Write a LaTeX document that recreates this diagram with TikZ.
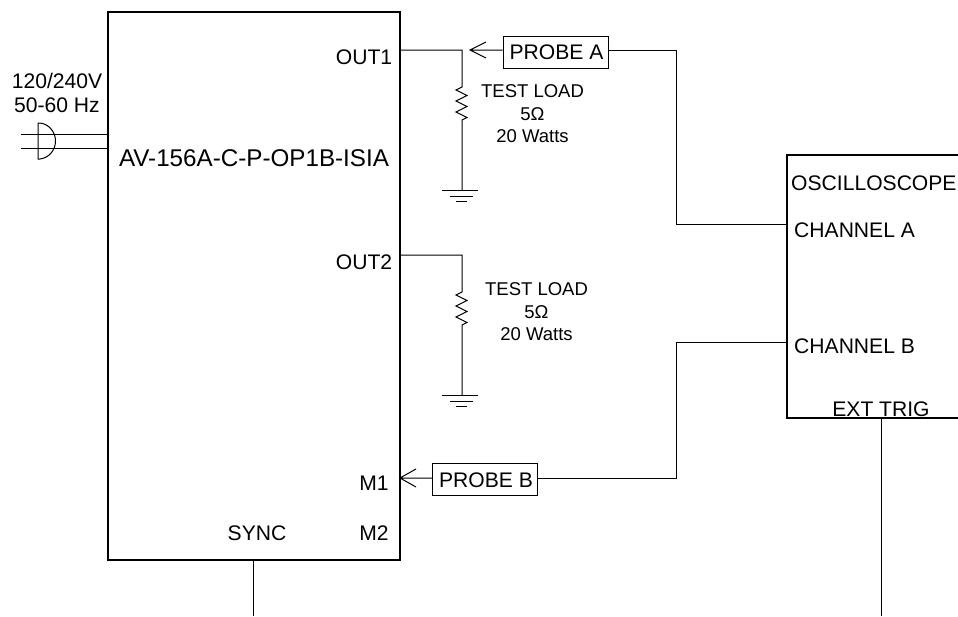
\documentclass[tikz,border=0pt]{standalone}
\usepackage{fontspec}
\setmainfont{Liberation Sans}
\begin{document}
\begin{tikzpicture}[x=1pt,y=-1pt,
  wire/.style={draw=black,line width=1pt},
  thick box/.style={draw=black,line width=2.8pt,inner sep=0pt,minimum width=292pt,minimum height=548pt},
  probebox/.style={draw=black,line width=1pt,inner sep=0pt,minimum width=105pt,minimum height=32pt},
  big/.style={inner sep=0pt,anchor=base,font=\fontsize{21.1}{21.1}\selectfont},
  bigl/.style={big,anchor=base west},
  small/.style={inner sep=0pt,anchor=base,font=\fontsize{18.5}{18.5}\selectfont}]
\useasboundingbox (0,0) rectangle (958,616);
\clip (0,0) rectangle (958,616);
% main unit
\node[thick box] (main) at (254,286) {};
% oscilloscope
\coordinate (scTR) at (958,155);
\coordinate (scTL) at (787,155);
\coordinate (scBL) at (787,418);
\coordinate (scBR) at (958,418);
\draw[line width=2.8pt,line join=miter] (scTR) -- (scTL) -- (scBL) -- (scBR);
% texts in main
\node[inner sep=0pt,anchor=base,font=\fontsize{24.2}{24.2}\selectfont] (mainlab) at (254,166) {AV-156A-C-P-OP1B-ISIA};
\node[big] (o1) at (364,64) {OUT1};
\node[big] (o2) at (364,269) {OUT2};
\node[big] (m1) at (374,490) {M1};
\node[big] (m2) at (374,540) {M2};
\node[big] (sy) at (257,540) {SYNC};
% mains
\node[big] (v1) at (57,88) {120/240V};
\node[big] (v2) at (57,112) {50-60 Hz};
\coordinate (pl1) at (21,134);
\coordinate (pl2) at (21,148);
\coordinate (pr1) at (108,134);
\coordinate (pr2) at (108,148);
\draw[wire] (pl1) -- (pr1);
\draw[wire] (pl2) -- (pr2);
\draw[wire] (38,123) -- (40,123) .. controls (49,124) and (55.5,132) .. (55.5,141)
  .. controls (55.5,150) and (49,158) .. (40,159) -- (38,159) -- cycle;
% probe boxes
\node[probebox] (pa) at (555.5,52) {};
\node[big] (patxt) at (556.5,59) {PROBE A};
\node[probebox] (pb) at (485,479) {};
\node[big] (pbtxt) at (486,487) {PROBE B};
% load A
\coordinate (out1) at (400,50);
\coordinate (ja) at (462,50);
\coordinate (ra1) at (462,87);
\coordinate (ra2) at (462,120);
\coordinate (ga) at (462,190);
\draw[wire] (out1) -- (ja) -- (ra1) -- ++(-6,3) -- ++(11,5.5) -- ++(-11,5.5) -- ++(11,5.5) -- ++(-11,5.5) -- ++(11,5.5) -- (ra2) -- (ga);
\draw[wire] (442,190) -- (478,190) (450,196) -- (473,196) (456,201) -- (467,201);
% probe A tip
\coordinate (tipa) at (470,50);
\draw[wire] (pa.west |- tipa) -- (tipa) (486,42) -- (tipa) -- (486,58);
\node[small] (t1) at (532.5,97) {TEST LOAD};
\node[small] (t2) at (532.5,120) {5Ω};
\node[small] (t3) at (532.5,142) {20 Watts};
% load B
\coordinate (out2) at (400,255);
\coordinate (jb) at (462,255);
\coordinate (rb1) at (462,292);
\coordinate (rb2) at (462,325);
\coordinate (gb) at (462,395);
\draw[wire] (out2) -- (jb) -- (rb1) -- ++(-6,3) -- ++(11,5.5) -- ++(-11,5.5) -- ++(11,5.5) -- ++(-11,5.5) -- ++(11,5.5) -- (rb2) -- (gb);
\draw[wire] (442,395) -- (478,395) (450,401) -- (473,401) (456,406) -- (467,406);
\node[small] (t4) at (536.5,295) {TEST LOAD};
\node[small] (t5) at (536.5,318) {5Ω};
\node[small] (t6) at (536.5,340) {20 Watts};
% probe B tip
\coordinate (tipb) at (400,478);
\draw[wire] (pb.west |- tipb) -- (tipb) (416,469) -- (tipb) -- (416,487);
% probe routing
\coordinate (cha) at (787,224);
\coordinate (chb) at (787,342);
\coordinate (ea) at (676,50);
\coordinate (eb) at (676,478);
\draw[wire] (pa.east |- ea) -- (ea) -- (676,224) -- (cha);
\draw[wire] (pb.east |- eb) -- (eb) -- (676,342) -- (chb);
% scope labels
\node[bigl] (os) at (791,190) {OSCILLOSCOPE};
\node[bigl] (ca) at (794,237) {CHANNEL A};
\node[bigl] (cb) at (794,353) {CHANNEL B};
\node[big] (et) at (881,416) {EXT TRIG};
% trig lines
\coordinate (syncend) at (253,616);
\coordinate (syncstart) at (253,560);
\coordinate (trigstart) at (881,418);
\coordinate (trigend) at (881,616);
\draw[wire] (syncstart) -- (syncend);
\draw[wire] (trigstart) -- (trigend);
\end{tikzpicture}
\end{document}
